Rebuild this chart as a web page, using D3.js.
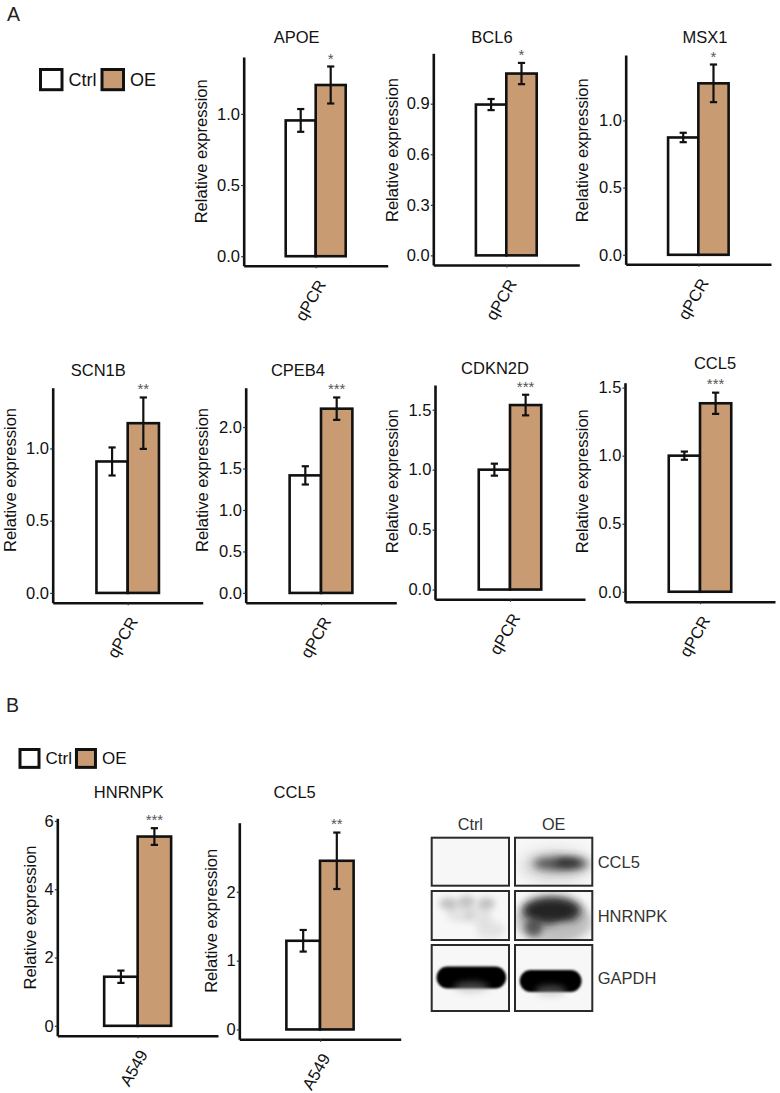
<!DOCTYPE html>
<html><head><meta charset="utf-8">
<script src="https://cdn.jsdelivr.net/npm/d3@7"></script>
<style>body{margin:0;background:#fff} svg{display:block}</style>
</head><body>
<svg id="fig" width="780" height="1093"></svg>
<script>
// ---------------- DATA ----------------
const genes = ["APOE","BCL6","MSX1","SCN1B","CPEB4","CDKN2D","CCL5","HNRNPK","CCL5"];
const groups = ["Ctrl","OE"];
const ctrlMean = [0.954,0.895,0.873,0.910,1.417,1.000,1.000,1.437,1.288];
const ctrlErr  = [0.080,0.033,0.035,0.097,0.110,0.050,0.030,0.180,0.157];
const oeMean   = [1.203,1.079,1.276,1.175,2.221,1.539,1.385,5.543,2.450];
const oeErr    = [0.130,0.063,0.140,0.178,0.135,0.086,0.078,0.245,0.410];
const signif   = ["*","*","*","**","***","***","***","***","**"];
const xLabels  = ["qPCR","qPCR","qPCR","qPCR","qPCR","qPCR","qPCR","A549","A549"];
const yTicks = [
  [0,0.5,1.0],[0,0.3,0.6,0.9],[0,0.5,1.0],
  [0,0.5,1.0],[0,0.5,1.0,1.5,2.0],[0,0.5,1.0,1.5],[0,0.5,1.0,1.5],
  [0,2,4,6],[0,1,2]
];
const yTickLabels = [
  ["0.0","0.5","1.0"],["0.0","0.3","0.6","0.9"],["0.0","0.5","1.0"],
  ["0.0","0.5","1.0"],["0.0","0.5","1.0","1.5","2.0"],["0.0","0.5","1.0","1.5"],["0.0","0.5","1.0","1.5"],
  ["0","2","4","6"],["0","1","2"]
];
const yTitle = "Relative expression";
const blotLanes = ["Ctrl","OE"];
const blotProteins = ["CCL5","HNRNPK","GAPDH"];
const blotSignal = [[0.0,0.85],[0.25,0.95],[1.0,1.0]];

// ---------------- LAYOUT / STYLE ----------------
const FONT = "'Liberation Sans', Arial, Helvetica, sans-serif";
const INK = "#111";
const fills = {Ctrl:"#ffffff", OE:"#C89B73"};
const layout = [
 {l:243.7,r:387.7,t:57,  b:265.7, tx:296.7,ty:43.3, lx:207.3,ly:151.3},
 {l:433.3,r:579.3,t:53.3,b:265,   tx:492,  ty:43.3, lx:398.3,ly:150},
 {l:625.7,r:771,  t:55,  b:264.3, tx:705,  ty:43.3, lx:588.3,ly:150.3},
 {l:52.7, r:202.7,t:387.7,b:602.7,tx:98.3, ty:376,  lx:15.9, ly:480},
 {l:245.7,r:396.3,t:387.7,b:602.7,tx:298,  ty:376,  lx:208.3,ly:480},
 {l:435,  r:585,  t:385, b:599.3, tx:495,  ty:374,  lx:398.3,ly:481.2},
 {l:625,  r:775,  t:382.7,b:601.7,tx:715,  ty:369.3,lx:588.3,ly:481.2},
 {l:57.3, r:218,  t:818.3,b:1035.7,tx:128.7,ty:797.7,lx:35.9, ly:917.5},
 {l:239.3,r:400.7,t:822.7,b:1039.3,tx:294.7,ty:797.7,lx:216.6,ly:920.8}
];

const svg = d3.select("#fig");
svg.append("rect").attr("width",780).attr("height",1093).attr("fill","#fff");

// panel letters
svg.append("text").attr("x",7).attr("y",21).text("A")
  .attr("font-family",FONT).attr("font-size",19.5).attr("fill","#222");
svg.append("text").attr("x",6).attr("y",712).text("B")
  .attr("font-family",FONT).attr("font-size",19.5).attr("fill","#222");

// legends
function legend(x0, y0, box, gapText, pairGap, fs){
  const g = svg.append("g");
  let x = x0;
  groups.forEach((grp,k)=>{
    g.append("rect").attr("x",x).attr("y",y0).attr("width",box).attr("height",box*0.94)
      .attr("fill",fills[grp]).attr("stroke",INK).attr("stroke-width",3);
    const t = g.append("text").attr("x",x+box+gapText).attr("y",y0+box*0.94*0.8)
      .attr("font-family",FONT).attr("font-size",fs).attr("fill",INK).text(grp);
    x = x + box + gapText + t.node().getComputedTextLength() + pairGap;
  });
}
legend(40.5, 69.5, 21.5, 6.5, 5.5, 18);
legend(20, 749.5, 19, 6.5, 4.5, 17);

// bar panels
genes.forEach((gene,i)=>{
  const L = layout[i];
  const M = Math.max(ctrlMean[i]+ctrlErr[i], oeMean[i]+oeErr[i]);
  const y = d3.scaleLinear().domain([-0.05*M, 1.05*M]).range([L.b, L.t]);
  const x = d3.scaleLinear().domain([0.4,1.6]).range([L.l, L.r]);
  const xb = d3.scaleBand().domain(groups).range([x(0.75), x(1.25)]).padding(0);
  const g = svg.append("g");
  const rows = [
    {grp:"Ctrl", v:ctrlMean[i], e:ctrlErr[i]},
    {grp:"OE",   v:oeMean[i],   e:oeErr[i]}
  ];
  g.selectAll("rect.bar").data(rows).join("rect").attr("class","bar")
    .attr("x",d=>xb(d.grp)).attr("width",xb.bandwidth())
    .attr("y",d=>y(d.v)).attr("height",d=>y(0)-y(d.v))
    .attr("fill",d=>fills[d.grp]).attr("stroke",INK).attr("stroke-width",2.6);
  // error bars
  const cap = 3.6;
  rows.forEach(d=>{
    const cx = xb(d.grp)+xb.bandwidth()/2;
    const eg = g.append("g").attr("stroke",INK).attr("stroke-width",2.2);
    eg.append("line").attr("x1",cx).attr("x2",cx).attr("y1",y(d.v+d.e)).attr("y2",y(d.v-d.e));
    eg.append("line").attr("x1",cx-cap).attr("x2",cx+cap).attr("y1",y(d.v+d.e)).attr("y2",y(d.v+d.e));
    eg.append("line").attr("x1",cx-cap).attr("x2",cx+cap).attr("y1",y(d.v-d.e)).attr("y2",y(d.v-d.e));
  });
  // significance
  const oeX = xb("OE")+xb.bandwidth()/2;
  g.append("text").attr("x",oeX).attr("y",y(1.05*M)+6.5).attr("text-anchor","middle")
    .attr("font-family",FONT).attr("font-size",15).attr("fill","#555").text(signif[i]);
  // y axis
  const ya = g.append("g").attr("transform",`translate(${L.l},0)`)
    .call(d3.axisLeft(y).tickValues(yTicks[i]).tickFormat((d,j)=>yTickLabels[i][j])
      .tickSize(2.5).tickSizeOuter(0).tickPadding(1.2));
  ya.select(".domain").attr("stroke",INK).attr("stroke-width",2.6);
  ya.selectAll(".tick line").attr("stroke","#333").attr("stroke-width",1.2);
  ya.selectAll(".tick text").attr("font-family",FONT).attr("font-size",16.5).attr("fill","#111");
  // x axis
  const xa = g.append("g").attr("transform",`translate(0,${L.b})`)
    .call(d3.axisBottom(x).tickValues([1]).tickFormat(()=> "").tickSize(2.5).tickSizeOuter(0));
  xa.select(".domain").attr("stroke",INK).attr("stroke-width",2.6);
  xa.selectAll(".tick line").attr("stroke","#333").attr("stroke-width",1.2);
  // x tick label rotated
  const tx = x(1)+10.8, ty = L.b+18.5;
  g.append("text").attr("transform",`translate(${tx},${ty}) rotate(-60)`)
    .attr("text-anchor","end").attr("font-family",FONT).attr("font-size",16.5)
    .attr("fill","#111").text(xLabels[i]);
  // title
  g.append("text").attr("x",L.tx).attr("y",L.ty).attr("text-anchor","middle")
    .attr("font-family",FONT).attr("font-size",16.5).attr("fill",INK).text(gene);
  // y title
  g.append("text").attr("transform",`translate(${L.lx},${L.ly}) rotate(-90)`)
    .attr("text-anchor","middle").attr("font-family",FONT).attr("font-size",16.5)
    .attr("fill",INK).text(yTitle);
});

// ---------------- WESTERN BLOT ----------------
const defs = svg.append("defs");
[["b1",1.3],["b3",3],["b5",4.5],["b7",6]].forEach(([id,s])=>{
  defs.append("filter").attr("id",id).attr("x","-50%").attr("y","-50%").attr("width","200%").attr("height","200%")
    .append("feGaussianBlur").attr("stdDeviation",s);
});
const laneX = d3.scaleBand().domain(blotLanes).range([431.7, 592.3]).paddingInner(0.072).paddingOuter(0);
const rowY = {CCL5:[837.7,885.7], HNRNPK:[891,940], GAPDH:[945,1011]};
const bg = svg.append("g");
blotLanes.forEach((lane,li)=>{
  bg.append("text").attr("x",laneX(lane)+laneX.bandwidth()/2).attr("y",830)
    .attr("text-anchor","middle").attr("font-family",FONT).attr("font-size",16.3)
    .attr("fill","#333").text(lane);
});
blotProteins.forEach((prot,pi)=>{
  const [y0,y1] = rowY[prot];
  blotLanes.forEach((lane,li)=>{
    const x0 = laneX(lane), w = laneX.bandwidth(), h = y1-y0;
    const s = blotSignal[pi][li];
    const cid = `clip_${pi}_${li}`;
    defs.append("clipPath").attr("id",cid).append("rect").attr("x",x0).attr("y",y0).attr("width",w).attr("height",h);
    const cell = bg.append("g");
    cell.append("rect").attr("x",x0).attr("y",y0).attr("width",w).attr("height",h).attr("fill","#f7f7f7");
    const inner = cell.append("g").attr("clip-path",`url(#${cid})`);
    const cx = x0 + w/2, cy = y0 + h/2;
    if(prot==="CCL5" && s>0){
      inner.append("ellipse").attr("cx",cx+2).attr("cy",cy+4).attr("rx",w*0.46).attr("ry",h*0.36)
        .attr("fill","#c4c4c4").attr("opacity",0.55).attr("filter","url(#b7)");
      inner.append("ellipse").attr("cx",cx+7).attr("cy",cy+2).attr("rx",w*0.36).attr("ry",h*0.15)
        .attr("fill","#3a3a3a").attr("opacity",s).attr("filter","url(#b5)");
      inner.append("ellipse").attr("cx",cx+14).attr("cy",cy+1).attr("rx",w*0.16).attr("ry",h*0.09)
        .attr("fill","#222").attr("opacity",0.7).attr("filter","url(#b3)");
    }
    if(prot==="HNRNPK"){
      if(li===0){
        [[-22,-12],[-4,-14],[16,-12],[-10,-2],[8,0],[20,14]].forEach(([dx,dy],k)=>{
          inner.append("ellipse").attr("cx",cx+dx).attr("cy",cy+dy).attr("rx",k<3?9:14).attr("ry",k<3?6:9)
            .attr("fill","#777").attr("opacity",k<3? s*1.6 : s*0.6).attr("filter","url(#b3)");
        });
      } else {
        inner.append("ellipse").attr("cx",cx).attr("cy",cy+6).attr("rx",w*0.5).attr("ry",h*0.45)
          .attr("fill","#9a9a9a").attr("opacity",0.6).attr("filter","url(#b5)");
        inner.append("ellipse").attr("cx",cx-2).attr("cy",cy-5).attr("rx",w*0.38).attr("ry",h*0.28)
          .attr("fill","#1c1c1c").attr("opacity",s).attr("filter","url(#b5)");
        inner.append("ellipse").attr("cx",cx-20).attr("cy",cy+12).attr("rx",9).attr("ry",9)
          .attr("fill","#3a3a3a").attr("opacity",0.75).attr("filter","url(#b3)");
        inner.append("ellipse").attr("cx",cx+10).attr("cy",cy+14).attr("rx",12).attr("ry",7)
          .attr("fill","#bdbdbd").attr("opacity",0.6).attr("filter","url(#b3)");
      }
    }
    if(prot==="GAPDH"){
      const rw = li===0 ? w*0.45 : w*0.40;
      const ox = li===0 ? 1 : -3;
      const oy = li===0 ? -0.5 : 3;
      inner.append("rect").attr("x",cx+ox-rw).attr("y",cy+oy-11).attr("width",rw*2).attr("height",22)
        .attr("rx",11).attr("fill","#000").attr("opacity",s).attr("filter","url(#b1)");
      inner.append("ellipse").attr("cx",cx+ox).attr("cy",cy+oy+10).attr("rx",rw*0.5).attr("ry",6)
        .attr("fill","#aaa").attr("opacity",0.4).attr("filter","url(#b3)");
    }
    cell.append("rect").attr("x",x0).attr("y",y0).attr("width",w).attr("height",h)
      .attr("fill","none").attr("stroke","#2a2a2a").attr("stroke-width",2);
  });
  bg.append("text").attr("x",597.7).attr("y",(y0+y1)/2+6)
    .attr("font-family",FONT).attr("font-size",16.5).attr("fill","#333").text(prot);
});
</script>
</body></html>
